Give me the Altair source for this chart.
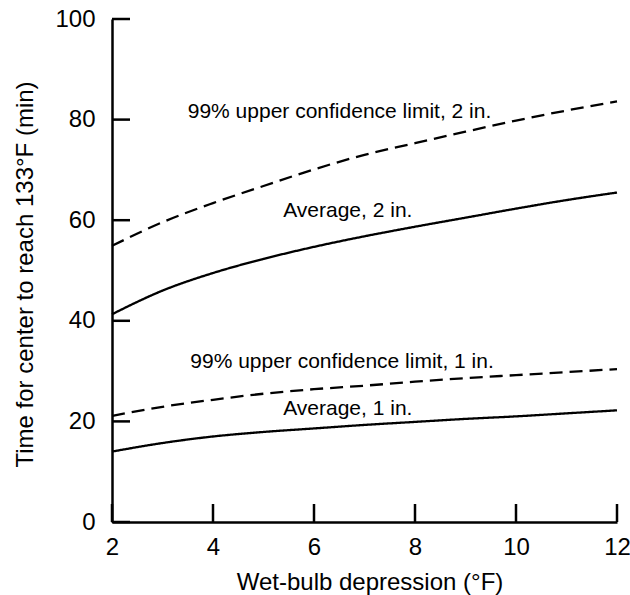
import altair as alt
import pandas as pd

# ---- data ----
x_vals = [2, 3, 4, 5, 6, 7, 8, 9, 10, 11, 12]
avg_2in = [41.3, 46.0, 49.5, 52.3, 54.7, 56.8, 58.7, 60.5, 62.3, 64.0, 65.5]
ucl_2in = [54.9, 59.6, 63.4, 66.8, 70.1, 73.0, 75.3, 77.6, 79.8, 81.8, 83.6]
ucl_1in = [21.1, 22.9, 24.3, 25.5, 26.4, 27.1, 27.9, 28.6, 29.2, 29.8, 30.4]
avg_1in = [14.0, 15.7, 17.0, 17.9, 18.6, 19.3, 19.9, 20.5, 21.0, 21.6, 22.2]

series_names = ["avg2", "ucl2", "ucl1", "avg1"]
series_kind = ["Average", "99% UCL", "99% UCL", "Average"]

label_text = [
    "99% upper confidence limit, 2 in.",
    "Average, 2 in.",
    "99% upper confidence limit, 1 in.",
    "Average, 1 in.",
]
label_x = [3.5, 5.39, 3.55, 5.39]
label_y = [80.3, 60.6, 30.6, 21.3]

x_ticks = [2, 4, 6, 8, 10, 12]
y_ticks = [0, 20, 40, 60, 80, 100]

x_title = "Wet-bulb depression (°F)"
y_title = "Time for center to reach 133°F (min)"

# ---- tables ----
rows = []
for name, kind, vals in zip(series_names, series_kind, [avg_2in, ucl_2in, ucl_1in, avg_1in]):
    for x, y in zip(x_vals, vals):
        rows.append({"series": name, "kind": kind, "x": x, "y": y})
lines_df = pd.DataFrame(rows)
labels_df = pd.DataFrame({"text": label_text, "x": label_x, "y": label_y})
xt_df = pd.DataFrame({"x": x_ticks})
yt_df = pd.DataFrame({"y": y_ticks})

FONT = "Liberation Sans"
W, H = 505, 503
TICK = 18

xscale = alt.Scale(domain=[2, 12], nice=False, zero=False)
yscale = alt.Scale(domain=[0, 100], nice=False, zero=False)

xaxis = alt.Axis(values=x_ticks, title=x_title, ticks=False, tickSize=0, grid=False,
                 labelFontSize=24, titleFontSize=24, labelFont=FONT, titleFont=FONT,
                 labelColor="black", titleColor="black", titleFontWeight="normal",
                 domainColor="black", domainWidth=2.5, labelPadding=13, titlePadding=11,
                 titleX=257.5, labelFlush=False)
yaxis = alt.Axis(values=y_ticks, title=y_title, ticks=False, tickSize=0, grid=False,
                 labelFontSize=24, titleFontSize=24, labelFont=FONT, titleFont=FONT,
                 labelColor="black", titleColor="black", titleFontWeight="normal",
                 domainColor="black", domainWidth=2.5, labelPadding=17, titlePadding=17,
                 titleY=255, labelFlush=False)

lines = alt.Chart(lines_df).mark_line(color="black", strokeWidth=2.3, interpolate="monotone").encode(
    x=alt.X("x:Q", scale=xscale, axis=xaxis),
    y=alt.Y("y:Q", scale=yscale, axis=yaxis),
    detail="series:N",
    strokeDash=alt.StrokeDash("kind:N", scale=alt.Scale(domain=["Average", "99% UCL"],
                                                          range=[[1, 0], [13, 7]]), legend=None),
)

texts = alt.Chart(labels_df).mark_text(align="left", baseline="alphabetic", fontSize=21,
                                       font=FONT, color="black").encode(
    x=alt.X("x:Q", scale=xscale),
    y=alt.Y("y:Q", scale=yscale),
    text="text:N",
)

xticks = alt.Chart(xt_df).mark_rule(color="black", strokeWidth=2.5).encode(
    x=alt.X("x:Q", scale=xscale),
    y=alt.value(H),
    y2=alt.value(H - TICK),
)
yticks = alt.Chart(yt_df).mark_rule(color="black", strokeWidth=2.5).encode(
    y=alt.Y("y:Q", scale=yscale),
    x=alt.value(0),
    x2=alt.value(TICK),
)

chart = alt.layer(lines, texts, xticks, yticks).properties(
    width=W, height=H,
    padding={"left": 112, "top": 19, "right": 13, "bottom": 73},
    autosize=alt.AutoSizeParams(type="none"),
    background="white",
).configure_view(stroke=None)

chart.save("out.html", embed_options={"renderer": "svg", "actions": False})
